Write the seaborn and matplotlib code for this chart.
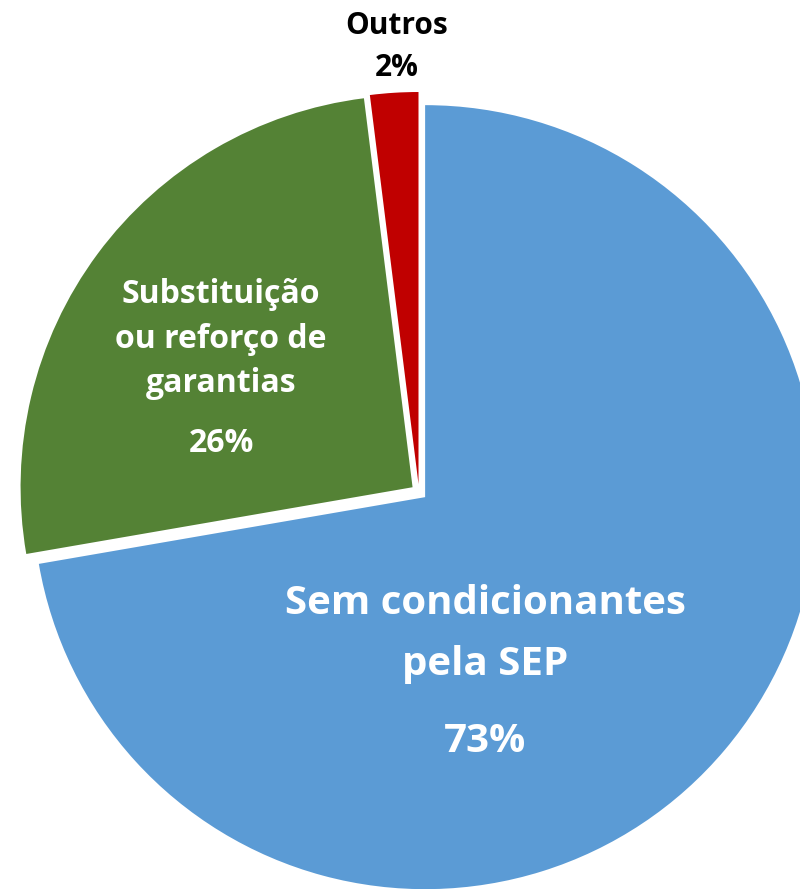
import matplotlib
matplotlib.use("Agg")
import matplotlib.pyplot as plt
import seaborn as sns

# chart data
categories = ["Sem condicionantes\npela SEP", "Substituição\nou reforço de\ngarantias", "Outros"]
shares = [73, 26, 2]
share_labels = ["73%", "26%", "2%"]
colors = ["#5B9BD5", "#548235", "#C00000"]

sns.set_style("white")
plt.rcParams["font.family"] = ["Open Sans", "DejaVu Sans"]

fig = plt.figure(figsize=(8, 8.89), dpi=100)
ax = fig.add_axes([0, 0, 1, 1])

# pie drawn in pixel-like units so it can run off the right edge like the original
wedges, _ = ax.pie(shares, colors=sns.color_palette(colors), startangle=90,
                   counterclock=False, explode=[8, 8, 8],
                   radius=392, center=(419, 397), frame=True,
                   wedgeprops=dict(linewidth=0))
ax.set_xlim(0, 800)
ax.set_ylim(0, 889)
ax.set_aspect("equal")
ax.axis("off")

# labels
ax.text(485, 889 - 634, categories[0], ha="center", va="center", color="white",
        fontsize=29, fontweight="bold", linespacing=1.72)
ax.text(485, 889 - 742, share_labels[0], ha="center", va="center", color="white",
        fontsize=29, fontweight="bold")

ax.text(221, 889 - 339, categories[1], ha="center", va="center", color="white",
        fontsize=23, fontweight="bold", linespacing=1.45)
ax.text(221, 889 - 443, share_labels[1], ha="center", va="center", color="white",
        fontsize=23, fontweight="bold")

ax.text(397, 889 - 26, categories[2], ha="center", va="center", color="black",
        fontsize=21.5, fontweight="bold")
ax.text(397, 889 - 68, share_labels[2], ha="center", va="center", color="black",
        fontsize=21.5, fontweight="bold")

fig.savefig("out.png", dpi=100, facecolor="white")
